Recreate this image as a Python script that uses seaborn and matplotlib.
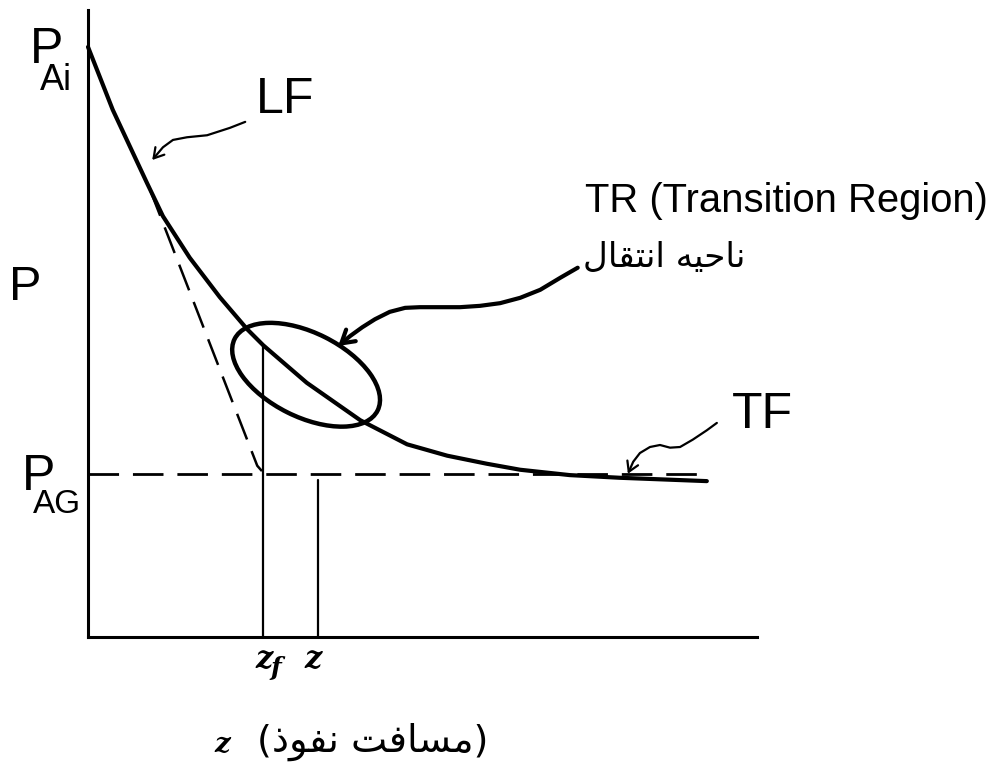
import matplotlib
matplotlib.use("Agg")
import matplotlib.pyplot as plt
from matplotlib.patches import Ellipse, FancyArrowPatch
from matplotlib.path import Path
import pandas as pd
import seaborn as sns

# Concentration profile P(z): liquid film (LF) -> transition region -> turbulent film (TF)
z_curve = [0.0, 0.37, 0.88, 1.12, 1.52, 1.97, 2.38, 2.62, 3.27, 4.07, 4.77,
           5.37, 5.96, 6.46, 7.20, 7.95, 9.25]
p_curve = [8.82, 7.88, 6.79, 6.29, 5.67, 5.08, 4.60, 4.36, 3.80, 3.24, 2.88,
           2.71, 2.59, 2.50, 2.42, 2.38, 2.33]

# Linear (film) extrapolation and bulk level
z_tangent = [0.93, 2.53, 2.60]
p_tangent = [6.68, 2.56, 2.48]
p_ag = 2.44
z_end = 9.22

# Film thickness z_f and penetration distance z
z_f = 2.62
z_f_top = 4.36
z_pen = 3.44
z_pen_top = 2.35

# Transition region marker
tr_center = (3.26, 3.92)
tr_width, tr_height, tr_angle = 2.39, 1.256, -26.6

# Pointer paths
lf_z = [2.35, 2.12, 1.78, 1.48, 1.27, 1.12, 0.96]
lf_p = [7.70, 7.61, 7.50, 7.47, 7.43, 7.32, 7.13]
tf_z = [9.40, 9.25, 9.04, 8.85, 8.70, 8.55, 8.40, 8.25, 8.15, 8.07]
tf_p = [3.20, 3.09, 2.95, 2.84, 2.83, 2.87, 2.84, 2.75, 2.62, 2.44]
tr_z = [7.32, 7.06, 6.76, 6.46, 6.16, 5.86, 5.56, 5.26, 4.96, 4.74, 4.51,
        4.29, 4.10, 3.92, 3.74]
tr_p = [5.52, 5.37, 5.19, 5.07, 4.99, 4.95, 4.93, 4.93, 4.93, 4.92, 4.86,
        4.75, 4.63, 4.50, 4.35]

# Persian labels (presentation forms, visual order)
label_tr_fa = "\uFEDD\uFE8E\uFED8\uFE98\uFEE7\uFE8D \uFEEA\uFEF4\uFEA3\uFE8E\uFEE7"
label_axis_fa = "(\uFEAB\uFEEE\uFED4\uFEE7 \uFE96\uFED3\uFE8E\uFEB4\uFEE3)"

sns.set_theme(style="white")
plt.rcParams["font.family"] = ["Liberation Sans", "DejaVu Sans"]

fig = plt.figure(figsize=(9.94, 7.69), dpi=100)
ax = fig.add_axes([88 / 994, 132 / 769, 669 / 994, 627 / 769])
ax.set_xlim(0, 10)
ax.set_ylim(0, 627 / 66.9)
ax.set_xticks([])
ax.set_yticks([])
for side in ("top", "right"):
    ax.spines[side].set_visible(False)
for side in ("left", "bottom"):
    ax.spines[side].set_color("black")
    ax.spines[side].set_linewidth(2.2)
ax.set_facecolor("white")

df = pd.DataFrame({"z": z_curve, "P": p_curve})
sns.lineplot(data=df, x="z", y="P", sort=False, estimator=None, color="black",
             linewidth=3.0, ax=ax, clip_on=False, solid_joinstyle="round",
             solid_capstyle="round")

dash = (0, (11, 5))
ax.plot(z_tangent, p_tangent, color="black", linewidth=1.8, linestyle=dash, clip_on=False)
ax.plot([0, z_end], [p_ag, p_ag], color="black", linewidth=2.0, linestyle=dash, clip_on=False)

ax.plot([z_f, z_f], [0, z_f_top], color="black", linewidth=1.6)
ax.plot([z_pen, z_pen], [0, z_pen_top], color="black", linewidth=1.6)

ax.add_patch(Ellipse(tr_center, tr_width, tr_height, angle=tr_angle,
                     fill=False, edgecolor="black", linewidth=3.2))


def pointer(zs, ps, lw, scale):
    verts = list(zip(zs, ps))
    arrow = FancyArrowPatch(path=Path(verts), arrowstyle="->,head_length=0.5,head_width=0.3",
                            mutation_scale=scale, color="black", linewidth=lw,
                            joinstyle="round", capstyle="round",
                            transform=ax.transData, clip_on=False)
    ax.add_patch(arrow)


pointer(lf_z, lf_p, 1.6, 14)
pointer(tf_z, tf_p, 1.6, 14)
pointer(tr_z, tr_p, 3.0, 18)

txt = dict(color="black", clip_on=False)
ax.text(-0.87, 8.58, "P", fontsize=36, ha="left", va="baseline", **txt)
ax.text(-0.72, 8.18, "Ai", fontsize=26, ha="left", va="baseline", **txt)
ax.text(-1.18, 5.04, "P", fontsize=35, ha="left", va="baseline", **txt)
ax.text(-0.99, 2.20, "P", fontsize=36, ha="left", va="baseline", **txt)
ax.text(-0.82, 1.85, "AG", fontsize=24, ha="left", va="baseline", **txt)
ax.text(2.51, 7.83, "LF", fontsize=36, ha="left", va="baseline", **txt)
ax.text(9.63, 3.12, "TF", fontsize=36, ha="left", va="baseline", **txt)
ax.text(7.43, 6.35, "TR (Transition Region)", fontsize=28.8, ha="left", va="baseline", **txt)
ax.text(7.40, 5.68, label_tr_fa, fontsize=24.7, ha="left", va="center",
        family=["DejaVu Sans"], **txt)

zstyle = dict(family=["DejaVu Serif"], fontstyle="italic", fontweight="bold", **txt)
ax.text(2.50, -0.46, "z", fontsize=22, ha="left", va="baseline", **zstyle)
ax.text(2.73, -0.57, "f", fontsize=18, ha="left", va="baseline", **zstyle)
ax.text(3.24, -0.46, "z", fontsize=22, ha="left", va="baseline", **zstyle)
ax.text(2.12, -1.72, "z", fontsize=20, ha="right", va="baseline", **zstyle)
ax.text(2.53, -1.57, label_axis_fa, fontsize=27.6, ha="left", va="center",
        family=["DejaVu Sans"], **txt)

fig.savefig("out.png", dpi=100, facecolor="white")
